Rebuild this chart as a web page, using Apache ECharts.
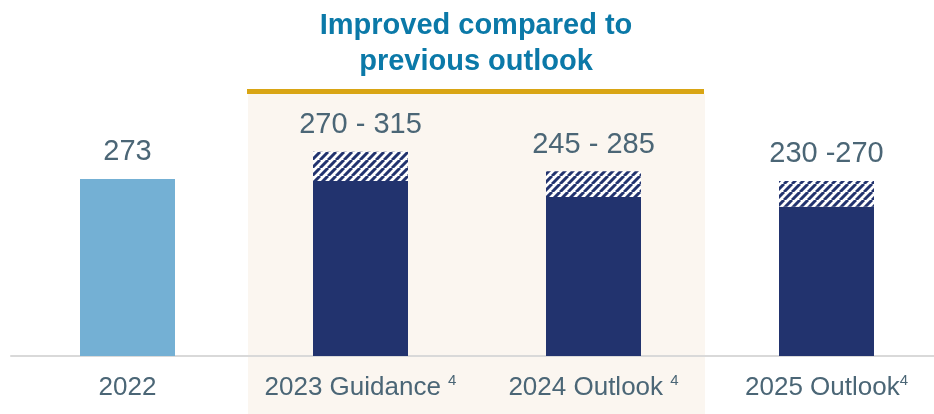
<!DOCTYPE html>
<html>
<head>
<meta charset="utf-8">
<script src="https://cdn.jsdelivr.net/npm/echarts@6/dist/echarts.min.js"></script>
<style>
  html, body { margin: 0; padding: 0; background: #fff; }
  #chart { width: 934px; height: 414px; }
</style>
</head>
<body>
<div id="chart"></div>
<script>
  const categories = ['2022', '2023 Guidance', '2024 Outlook', '2025 Outlook'];
  const tickLabels = ['2022', '2023 Guidance ', '2024 Outlook ', '2025 Outlook'];
  const footnotes = ['', '4', '4', '4'];
  const lowValues = [273, 270, 245, 230];
  const highValues = [273, 315, 285, 270];
  const valueLabels = ['273', '270 - 315', '245 - 285', '230 -270'];

  const navy = '#22336E';
  const font = '"Liberation Sans", Arial, sans-serif';

  // hatch pattern for the outlook range
  function makeHatch() {
    const s = 8;
    const c = document.createElement('canvas');
    c.width = s; c.height = s;
    const ctx = c.getContext('2d');
    ctx.fillStyle = '#fff';
    ctx.fillRect(0, 0, s, s);
    ctx.strokeStyle = navy;
    ctx.lineWidth = 3;
    ctx.beginPath();
    for (let k = -1; k <= 1; k++) {
      ctx.moveTo(k * s, s);
      ctx.lineTo(k * s + s, 0);
    }
    ctx.stroke();
    return c;
  }

  const chart = echarts.init(document.getElementById('chart'));
  const rangeValues = highValues.map((h, i) => h - lowValues[i]);

  const option = {
    animation: false,
    title: {
      text: 'Improved compared to\nprevious outlook',
      left: 471,
      top: 3,
      textAlign: 'center',
      textStyle: {
        fontFamily: font,
        fontSize: 29,
        fontWeight: 'bold',
        color: '#0B79A8',
        lineHeight: 36
      }
    },
    graphic: [
      {
        type: 'rect',
        z: -10,
        shape: { x: 248, y: 94, width: 457, height: 320 },
        style: { fill: '#FBF6F0' }
      },
      {
        type: 'rect',
        z: -10,
        shape: { x: 247, y: 89, width: 457, height: 5 },
        style: { fill: '#D9A514' }
      }
    ],
    grid: {
      left: 11,
      width: 932,
      top: 94,
      bottom: 58,
      outerBoundsMode: 'none',
      containLabel: false
    },
    xAxis: {
      type: 'category',
      data: categories,
      axisLine: { lineStyle: { color: '#D9D9D9', width: 2 } },
      axisTick: { show: false },
      axisLabel: {
        margin: 17,
        formatter: (v, i) => {
          let s = '{a|' + tickLabels[i] + '}';
          if (footnotes[i]) s += '{s|' + footnotes[i] + '}';
          return s;
        },
        rich: {
          a: { fontFamily: font, fontSize: 26, color: '#4B6676', lineHeight: 30 },
          s: { fontFamily: font, fontSize: 15, color: '#4B6676', lineHeight: 15, verticalAlign: 'top' }
        }
      }
    },
    yAxis: {
      type: 'value',
      min: 0,
      max: 404,
      show: false,
      splitLine: { show: false }
    },
    series: [
      {
        name: 'low',
        type: 'bar',
        stack: 'v',
        barWidth: 95,
        data: lowValues.map((v, i) => ({
          value: v,
          itemStyle: { color: i === 0 ? '#74B0D4' : navy }
        }))
      },
      {
        name: 'range',
        type: 'bar',
        stack: 'v',
        barWidth: 95,
        itemStyle: { color: { image: makeHatch(), repeat: 'repeat' } },
        label: {
          show: true,
          position: 'top',
          distance: 12,
          fontFamily: font,
          fontSize: 29,
          color: '#4B6676',
          formatter: p => valueLabels[p.dataIndex]
        },
        data: rangeValues
      }
    ]
  };

  chart.setOption(option);
  window.onresize = function () {
    chart.resize();
  };
</script>
</body>
</html>
